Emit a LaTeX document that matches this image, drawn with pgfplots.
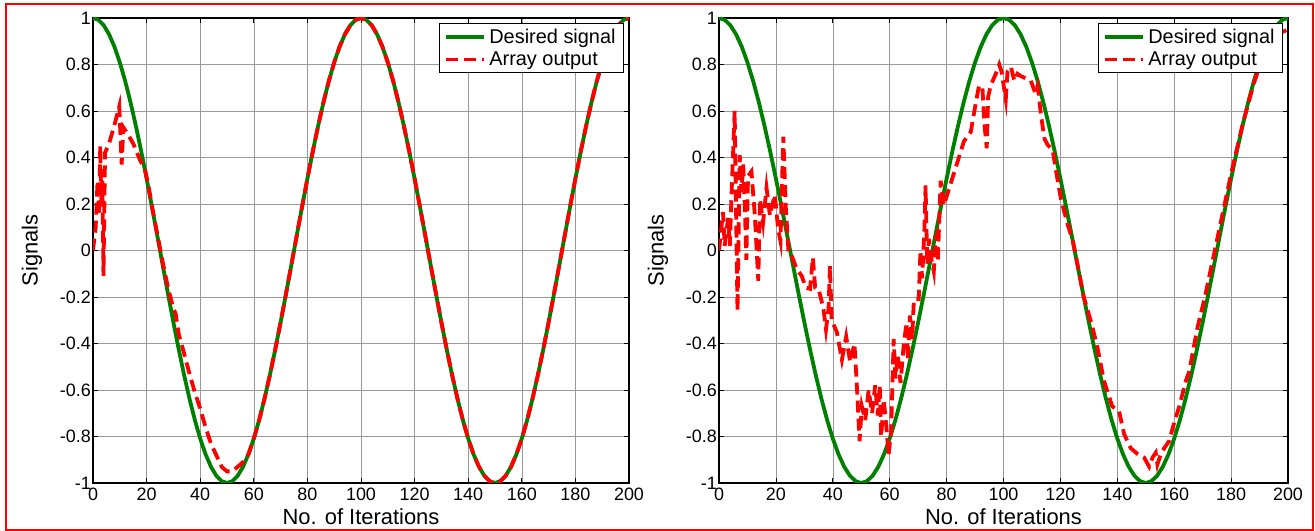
\documentclass[border=0pt]{standalone}
\usepackage{pgfplots}
\pgfplotsset{compat=1.18}
\usepackage{pgfplotstable}
\usepackage{fontspec}
\setmainfont{Liberation Sans}
\definecolor{mgreen}{RGB}{0,128,0}
\definecolor{mred}{RGB}{255,0,0}

\pgfplotstableread{
n v
0 1
2 0.9921
4 0.9686
6 0.9298
8 0.8763
10 0.8090
12 0.7290
14 0.6374
16 0.5358
18 0.4258
20 0.3090
22 0.1874
24 0.0628
26 -0.0628
28 -0.1874
30 -0.3090
32 -0.4258
34 -0.5358
36 -0.6374
38 -0.7290
40 -0.8090
42 -0.8763
44 -0.9298
46 -0.9686
48 -0.9921
50 -1
52 -0.9921
54 -0.9686
56 -0.9298
58 -0.8763
60 -0.8090
62 -0.7290
64 -0.6374
66 -0.5358
68 -0.4258
70 -0.3090
72 -0.1874
74 -0.0628
76 0.0628
78 0.1874
80 0.3090
82 0.4258
84 0.5358
86 0.6374
88 0.7290
90 0.8090
92 0.8763
94 0.9298
96 0.9686
98 0.9921
100 1
102 0.9921
104 0.9686
106 0.9298
108 0.8763
110 0.8090
112 0.7290
114 0.6374
116 0.5358
118 0.4258
120 0.3090
122 0.1874
124 0.0628
126 -0.0628
128 -0.1874
130 -0.3090
132 -0.4258
134 -0.5358
136 -0.6374
138 -0.7290
140 -0.8090
142 -0.8763
144 -0.9298
146 -0.9686
148 -0.9921
150 -1
152 -0.9921
154 -0.9686
156 -0.9298
158 -0.8763
160 -0.8090
162 -0.7290
164 -0.6374
166 -0.5358
168 -0.4258
170 -0.3090
172 -0.1874
174 -0.0628
176 0.0628
178 0.1874
180 0.3090
182 0.4258
184 0.5358
186 0.6374
188 0.7290
190 0.8090
192 0.8763
194 0.9298
196 0.9686
198 0.9921
200 1
}\desired

\pgfplotstableread{
n v
0 0.00
1 0.10
1.7 0.30
2.3 0.15
2.7 0.45
3.1 0.20
3.5 0.30
3.9 -0.11
4.5 0.42
6 0.46
8 0.54
9.8 0.62
10.7 0.37
11.3 0.53
13 0.50
15 0.46
17.5 0.39
19.4 0.35
21 0.26
22 0.19
24 0.07
26 -0.05
28 -0.16
30 -0.25
30.8 -0.27
32 -0.36
33.7 -0.43
36 -0.53
38 -0.61
40 -0.68
42 -0.76
44 -0.83
46 -0.88
48 -0.93
50 -0.95
52 -0.95
54 -0.93
56 -0.91
58 -0.8763
60 -0.8090
62 -0.7290
64 -0.6374
66 -0.5358
68 -0.4258
70 -0.3090
72 -0.1874
74 -0.0628
76 0.0628
78 0.1874
80 0.3090
82 0.4258
84 0.5358
86 0.6374
88 0.7290
90 0.8090
92 0.8763
94 0.9298
96 0.9686
98 0.9921
100 1
102 0.9921
104 0.9686
106 0.9298
108 0.8763
110 0.8090
112 0.7290
114 0.6374
116 0.5358
118 0.4258
120 0.3090
122 0.1874
124 0.0628
126 -0.0628
128 -0.1874
130 -0.3090
132 -0.4258
134 -0.5358
136 -0.6374
138 -0.7290
140 -0.8090
142 -0.8763
144 -0.9298
146 -0.9686
148 -0.9921
150 -1
152 -0.9921
154 -0.9686
156 -0.9298
158 -0.8763
160 -0.8090
162 -0.7290
164 -0.6374
166 -0.5358
168 -0.4258
170 -0.3090
172 -0.1874
174 -0.0628
176 0.0628
178 0.1874
180 0.3090
182 0.4258
184 0.5358
186 0.6374
188 0.7290
190 0.8090
192 0.8763
194 0.9298
196 0.9686
198 0.9921
200 1
}\outleft

\pgfplotstableread{
n v
0 0.00
1.4 0.165
2 0.02
3.2 0.14
3.8 0.02
4.4 0.24
5.5 0.60
6.5 -0.26
7.3 0.41
7.9 0.25
8.5 0.37
9.1 0.18
9.6 -0.04
10.2 0.32
11.4 0.34
12.6 0.15
13.8 -0.13
14.4 0.22
15.5 0.12
16.7 0.27
17.9 0.15
19.6 0.24
20.8 0.09
21.6 0.04
22.6 0.49
23.5 0.18
24.4 0.00
25.5 -0.02
27.3 -0.08
29.1 -0.11
30.5 -0.16
32 -0.165
33 -0.03
33.8 -0.16
35 -0.165
36.7 -0.25
37.6 -0.34
38.5 -0.25
39 -0.065
39.6 -0.30
41.4 -0.35
43.2 -0.47
44.7 -0.37
46.1 -0.48
47.6 -0.40
48.2 -0.525
48.7 -0.64
49.4 -0.82
50.2 -0.67
51.4 -0.73
52.6 -0.60
53.8 -0.70
54.9 -0.58
55.8 -0.71
56.5 -0.58
57 -0.80
57.9 -0.64
58.8 -0.755
59.6 -0.88
60.5 -0.78
61.4 -0.38
62 -0.55
62.8 -0.45
63.8 -0.57
64.9 -0.41
65.9 -0.31
66.4 -0.47
67.1 -0.28
67.9 -0.38
68.5 -0.21
70.2 -0.21
70.8 0.00
71.4 -0.12
72.2 0.09
72.6 0.28
73.2 -0.06
73.8 0.05
74.4 -0.02
75.5 -0.09
76.1 0.05
76.7 0.07
76.9 -0.05
77.3 0.09
77.9 0.30
79.1 0.195
80.2 0.24
82 0.31
83.8 0.38
86.1 0.47
88.5 0.51
90.2 0.63
91.4 0.71
92.6 0.70
93.2 0.555
94.1 0.44
94.6 0.66
95.5 0.71
97.3 0.76
98.5 0.80
99.3 0.77
100.8 0.65
101.4 0.77
102.6 0.79
103.8 0.73
104.9 0.76
106.1 0.75
107.9 0.74
109.6 0.73
111.1 0.68
112 0.71
113.2 0.58
114.4 0.48
115.5 0.455
117.3 0.43
118.5 0.34
120.2 0.22
122.6 0.11
124.4 0.04
126 -0.06
128.2 -0.20
130.6 -0.30
132.9 -0.41
135.3 -0.56
138.2 -0.67
140.6 -0.69
142.4 -0.79
144.7 -0.85
147.1 -0.875
149.4 -0.89
151.2 -0.93
152.4 -0.89
153.5 -0.87
154.1 -0.92
155.3 -0.875
156.5 -0.85
158.2 -0.82
160 -0.74
161.8 -0.67
164.1 -0.56
165.3 -0.52
166.5 -0.44
168.2 -0.33
170.6 -0.21
172 -0.13
176 0.10
180 0.33
184 0.54
188 0.72
192 0.86
196 0.93
200 0.95
}\outright

\pgfplotsset{
  myaxis/.style={
    scale only axis, height=465bp, anchor=south west,
    xmin=0, xmax=200, ymin=-1, ymax=1,
    xtick={0,20,40,60,80,100,120,140,160,180,200},
    xticklabels={0,20,40,60,80,100,120,140,160,180,200},
    ytick={-1,-0.8,-0.6,-0.4,-0.2,0,0.2,0.4,0.6,0.8,1},
    yticklabels={-1,-0.8,-0.6,-0.4,-0.2,0,0.2,0.4,0.6,0.8,1},
    grid=major, major grid style={draw=gray!80, line width=0.6bp},
    tick align=inside, major tick length=5bp,
    axis line style={line width=1.2bp},
    every tick/.style={black, line width=0.8bp},
    tick label style={font=\fontsize{18}{18}\selectfont},
    xticklabel style={inner sep=0bp, yshift=-5bp},
    yticklabel style={inner sep=2bp},
    xlabel={No. of Iterations}, ylabel={Signals},
    every axis x label/.style={at={(axis description cs:0.5,0)}, anchor=center, yshift=-34bp, font=\fontsize{22}{22}\selectfont},
    every axis y label/.style={at={(axis description cs:0,0.5)}, xshift=-61bp, rotate=90, anchor=center, font=\fontsize{22}{22}\selectfont},
    legend style={at={(1,1)}, anchor=north east, xshift=-5bp, yshift=-5bp,
      draw=black, line width=0.8bp, font=\fontsize{20}{24}\selectfont,
      inner xsep=5bp, inner ysep=2bp, cells={anchor=west},
      nodes={inner xsep=3bp, inner ysep=3.5bp}},
    legend image code/.code={\draw[##1] (0bp,0bp) -- (38bp,0bp);},
  },
  dsig/.style={mgreen, line width=3.8bp},
  aout/.style={mred, line width=3.8bp, dash pattern=on 12bp off 6bp},
}

\begin{document}
\begin{tikzpicture}
\useasboundingbox (0,0) rectangle (1315bp,531bp);
\draw[red, line width=1.8bp] (6bp,1bp) rectangle (1313bp,527bp);
\begin{axis}[myaxis, at={(93bp,48bp)}, width=536bp]
\addplot[dsig] table[x=n,y=v] {\desired};
\addplot[aout] table[x=n,y=v] {\outleft};
\legend{Desired signal, Array output}
\end{axis}
\begin{axis}[myaxis, at={(719bp,48bp)}, width=569bp]
\addplot[dsig] table[x=n,y=v] {\desired};
\addplot[aout] table[x=n,y=v] {\outright};
\legend{Desired signal, Array output}
\end{axis}
\end{tikzpicture}
\end{document}
